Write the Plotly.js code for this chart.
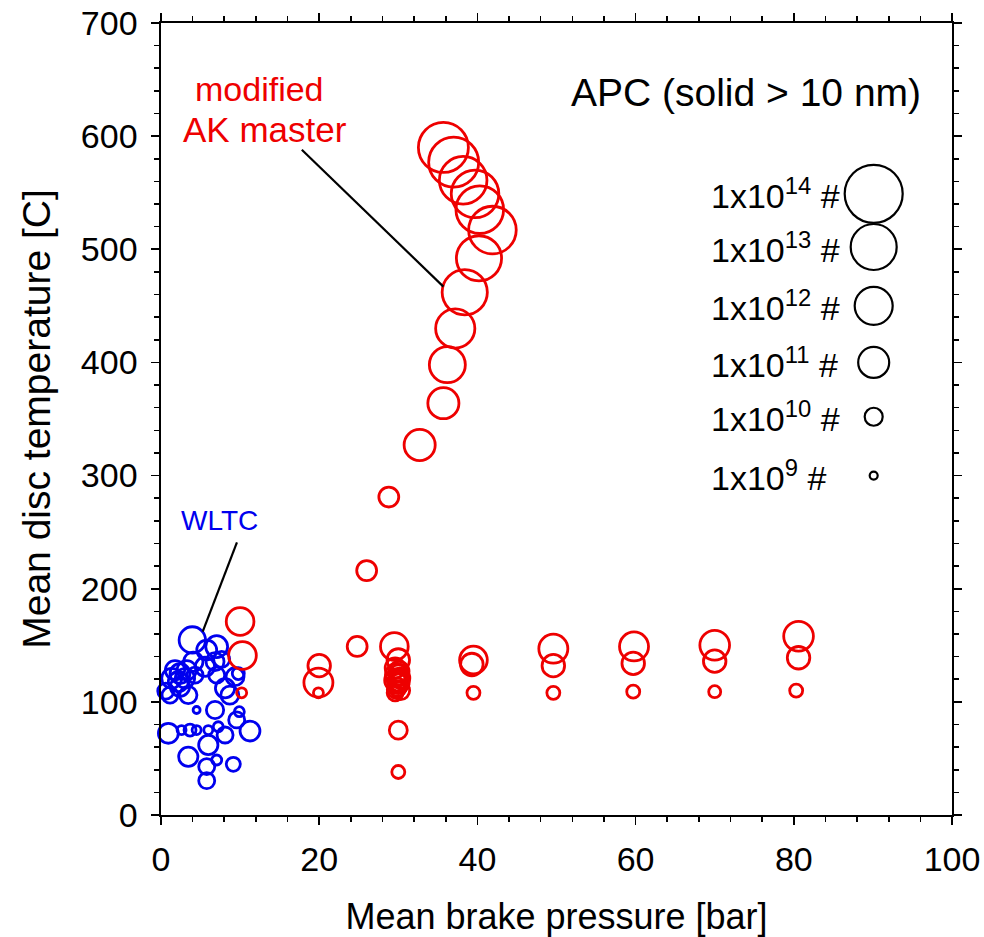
<!DOCTYPE html>
<html>
<head>
<meta charset="utf-8">
<script src="https://cdn.plot.ly/plotly-3.0.1.min.js"></script>
<style>html,body{margin:0;padding:0;background:#fff;}#chart{width:984px;height:937px;}</style>
</head>
<body>
<div id="chart"></div>
<script>
// ---- Data ----
// modified AK master: mean brake pressure [bar], mean disc temperature [C], log10 particle number
const akPressure = [35.7, 37.0, 38.2, 39.7, 40.3, 41.9, 40.2, 38.4, 37.2, 36.2, 35.7, 32.7, 28.8, 26.0, 24.8,
  10.0, 10.3, 10.2, 20.0, 19.9, 19.9,
  29.5, 30.0, 29.6, 30.1, 29.8, 30.2, 29.7, 30.0, 29.9, 30.3, 29.6, 30.1, 29.8, 30.0, 29.7, 30.2, 30.0, 30.0,
  39.5, 39.3, 39.5, 49.6, 49.6, 49.6, 59.8, 59.7, 59.7, 70.0, 70.0, 70.0, 80.6, 80.6, 80.3];
const akTemp = [590, 577, 561, 549, 535, 517, 492, 462, 430, 398, 364, 327, 281, 216, 149,
  171, 141, 108, 132, 117, 108,
  149, 137, 130, 127, 124, 121, 119, 116, 113, 110, 108, 122, 118, 125, 111, 117, 75, 38,
  137, 133, 108, 147, 132, 108, 149, 134, 109, 150, 136, 109, 158, 139, 110];
const akLogN = [13.5, 13.5, 13.3, 13.3, 13.3, 13.3, 13.1, 13.1, 12.4, 12.0, 11.3, 11.3, 10.3, 10.3, 10.3,
  10.9, 10.9, 9.4, 10.5, 11.0, 9.4,
  10.9, 10.5, 10.3, 10.3, 10.5, 10.3, 10.5, 10.3, 10.15, 10.15, 10.0, 10.0, 10.2, 10.1, 10.1, 10.2, 10.15, 9.7,
  10.9, 10.5, 9.7, 11.0, 10.5, 9.7, 11.0, 10.5, 9.7, 11.1, 10.5, 9.6, 11.1, 10.5, 9.7];

// WLTC
const wltcPressure = [3.96, 5.78, 7.04, 4.09, 6.83, 7.67, 5.56, 1.77, 2.4, 3.25, 1.35, 2.19, 3.03, 4.3, 7.04,
  9.36, 0.6, 1.14, 3.45, 2.4, 8.1, 8.7, 4.5, 6.83, 9.9, 9.57, 0.93, 2.6, 3.67, 4.5, 5.98, 7.24, 8.1,
  11.25, 5.98, 3.45, 7.04, 9.14, 5.78, 5.78, 9.77];
const wltcTemp = [154.7, 145.8, 148.8, 135.5, 135.5, 137.6, 131, 128, 125, 128, 120.8, 117.8, 120.8, 123.7, 123.7,
  122.2, 109.5, 106, 106, 113.4, 112, 106, 92.8, 92.8, 91.3, 84, 72.2, 75.1, 75.1, 75.1, 75.1, 78, 70.7,
  74.2, 61.9, 51.5, 48.6, 44.8, 42.7, 30.3, 125];
const wltcLogN = [10.8, 10.3, 10.45, 10.25, 10.15, 10.0, 10.25, 10.25, 10.3, 10.25, 10.3, 10.3, 10.25, 10.0, 10.0,
  10.15, 10.0, 10.0, 10.1, 10.25, 10.25, 10.15, 9.1, 10.1, 9.4, 10.0, 10.3, 9.3, 9.6, 9.3, 9.3, 9.4, 10.0,
  10.3, 10.25, 10.25, 9.4, 9.8, 10.0, 10.0, 9.6];

// size key
const keyExp = [14, 13, 12, 11, 10, 9];
const keyLabels = ['1x10<sup>14</sup> #', '1x10<sup>13</sup> #', '1x10<sup>12</sup> #', '1x10<sup>11</sup> #', '1x10<sup>10</sup> #', '1x10<sup>9</sup> #'];

// ---- Styling / size mapping ----
const mapExp = [9, 10, 11, 12, 13, 14];
const mapDiam = [6, 16, 29, 36, 44, 56];
function diam(e) {
  if (e <= mapExp[0]) return mapDiam[0];
  for (let i = 1; i < mapExp.length; i++) {
    if (e <= mapExp[i]) {
      const t = (e - mapExp[i - 1]) / (mapExp[i] - mapExp[i - 1]);
      return mapDiam[i - 1] + t * (mapDiam[i] - mapDiam[i - 1]);
    }
  }
  return mapDiam[mapDiam.length - 1];
}
const RED = '#ee0000', BLUE = '#0000ee';
const FONT = 'Liberation Sans, Arial, sans-serif';

const traces = [
  {x: wltcPressure, y: wltcTemp, type: 'scatter', mode: 'markers', name: 'WLTC',
   marker: {symbol: 'circle-open', color: BLUE, opacity: 1, size: wltcLogN.map(diam), line: {width: 2.8, color: BLUE}},
   cliponaxis: false},
  {x: akPressure, y: akTemp, type: 'scatter', mode: 'markers', name: 'modified AK master',
   marker: {symbol: 'circle-open', color: RED, opacity: 1, size: akLogN.map(diam), line: {width: 2.8, color: RED}},
   cliponaxis: false}
];

// key positions (layout, in data units)
const keyX = 90.1, keyLabelX = 69.3;
const keyY = [549, 502, 450, 400, 352, 300];

const shapes = [];
const annotations = [];
keyExp.forEach((e, i) => {
  const d = diam(e) + 2;
  shapes.push({type: 'circle', xref: 'x', yref: 'y', xsizemode: 'pixel', ysizemode: 'pixel',
    xanchor: keyX, yanchor: keyY[i], x0: -d / 2, x1: d / 2, y0: -d / 2, y1: d / 2,
    line: {color: 'black', width: 2.2}});
  annotations.push({x: keyLabelX, y: keyY[i], xref: 'x', yref: 'y', text: keyLabels[i], showarrow: false,
    xanchor: 'left', yanchor: 'middle', font: {family: FONT, size: 34, color: 'black'}});
});
// leader lines
shapes.push({type: 'line', xref: 'x', yref: 'y', x0: 17.8, y0: 588, x1: 35.7, y1: 467, line: {color: 'black', width: 2.2}});
shapes.push({type: 'line', xref: 'x', yref: 'y', x0: 9.6, y0: 241, x1: 5.27, y1: 162, line: {color: 'black', width: 2.2}});

annotations.push({x: 12.5, y: 642, xref: 'x', yref: 'y', text: 'modified', showarrow: false, font: {family: FONT, size: 34, color: RED}});
annotations.push({x: 13.1, y: 606, xref: 'x', yref: 'y', text: 'AK master', showarrow: false, font: {family: FONT, size: 35, color: RED}});
annotations.push({x: 96.3, y: 639, xref: 'x', yref: 'y', text: 'APC (solid > 10 nm)', showarrow: false, xanchor: 'right', font: {family: FONT, size: 39, color: 'black'}});
annotations.push({x: 7.4, y: 260, xref: 'x', yref: 'y', text: 'WLTC', showarrow: false, font: {family: FONT, size: 28, color: BLUE}});

const axisCommon = {
  showgrid: false, zeroline: false, showline: true, linecolor: 'black', linewidth: 1.6,
  ticks: 'outside', ticklen: 8, tickwidth: 1.6, tickcolor: 'black', mirror: 'ticks',
  tickfont: {family: FONT, size: 34, color: 'black'}
};

const layout = {
  width: 984, height: 937,
  margin: {l: 161, r: 32, t: 23, b: 122},
  paper_bgcolor: 'white', plot_bgcolor: 'white',
  showlegend: false,
  font: {family: FONT, color: 'black'},
  xaxis: Object.assign({}, axisCommon, {
    range: [0, 100], dtick: 20, tick0: 0, ticklabelstandoff: 6,
    minor: {dtick: 4, ticklen: 5, tickwidth: 1.6, tickcolor: 'black', ticks: 'outside'},
    title: {text: 'Mean brake pressure [bar]', font: {family: FONT, size: 36, color: 'black'}, standoff: 26}
  }),
  yaxis: Object.assign({}, axisCommon, {
    range: [0, 700], dtick: 100, tick0: 0, ticklabelstandoff: 7,
    minor: {dtick: 20, ticklen: 5, tickwidth: 1.6, tickcolor: 'black', ticks: 'outside'},
    title: {text: 'Mean disc temperature [C]', font: {family: FONT, size: 39, color: 'black'}, standoff: 18}
  }),
  shapes: shapes,
  annotations: annotations
};

Plotly.newPlot('chart', traces, layout, {staticPlot: true, displayModeBar: false});
</script>
</body>
</html>
